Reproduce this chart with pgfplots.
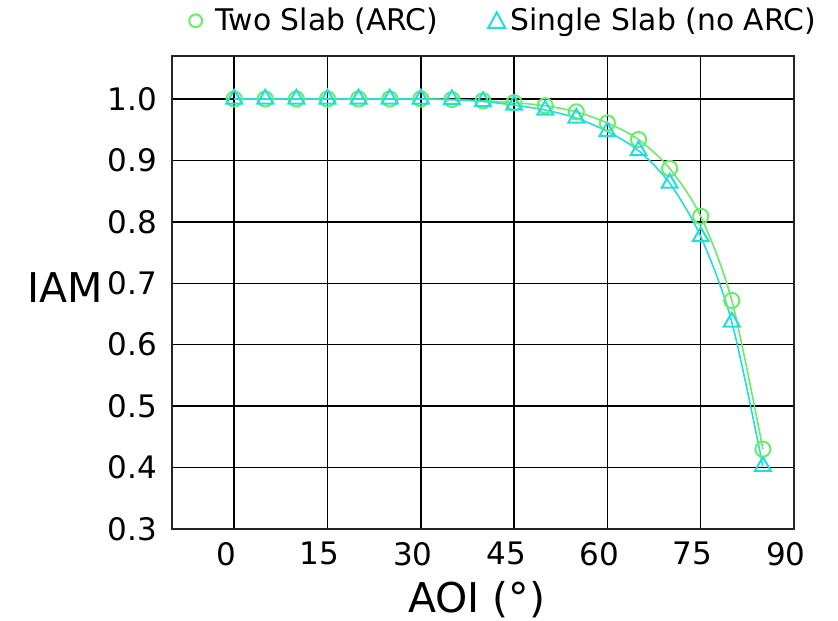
\documentclass[border=0pt]{standalone}
\usepackage{pgfplots}
\pgfplotsset{compat=1.18}
\usepackage{fontspec}
\setmainfont{DejaVu Sans}
\definecolor{cgreen}{RGB}{102,238,102}
\definecolor{ccyan}{RGB}{34,221,221}
\begin{document}
\begin{tikzpicture}
\begin{axis}[
  name=ax,
  scale only axis,
  width=311pt, height=236.5pt,
  xmin=-10, xmax=90, ymin=0.3, ymax=1.07,
  xtick={0,15,30,45,60,75,90},
  ytick={0.3,0.4,0.5,0.6,0.7,0.8,0.9,1.0},
  yticklabels={0.3,0.4,0.5,0.6,0.7,0.8,0.9,1.0},
  grid=major,
  major grid style={black, line width=0.75pt},
  axis line style={black!85, line width=0.9pt},
  major tick length=0pt,
  tick label style={font=\fontsize{15.5}{18}\selectfont},
  /pgf/number format/assume math mode=true,
  xticklabel style={yshift=-3pt, xshift=-4pt},
  yticklabel style={xshift=-4pt},
  xlabel={AOI (°)},
  ylabel={IAM},
  label style={font=\fontsize{20.5}{24}\selectfont},
  xlabel style={at={(axis description cs:0.49,0)}, anchor=north, yshift=-22.5pt},
  ylabel style={rotate=-90, at={(axis description cs:-0.172,0.51)}, anchor=center},
  legend columns=2,
  legend style={draw=none, fill=none, at={(0.5,1)}, anchor=south, xshift=10.5pt, yshift=7pt,
    font=\fontsize{14.9}{17}\selectfont, /tikz/every even column/.append style={column sep=22.5pt}},
  legend cell align=left,
]
\addplot[cgreen, line width=0.8pt, smooth, mark=o, mark size=3.8pt,
  mark options={line width=1pt},
  legend image code/.code={\draw[cgreen, line width=1pt] (0pt,0pt) circle (3.2pt); \path (7.5pt,0pt);}]
coordinates {
(0,1.000) (5,1.000) (10,1.000) (15,1.000) (20,1.000) (25,1.000) (30,1.000) (35,0.999)
(40,0.997) (45,0.994) (50,0.989) (55,0.979) (60,0.961) (65,0.934) (70,0.887)
(75,0.809) (80,0.672) (85,0.430)
};
\addlegendentry{Two Slab (ARC)}
\addplot[ccyan, line width=0.8pt, smooth, mark=triangle, mark size=4.6pt,
  mark options={line width=1pt},
  legend image code/.code={\draw[ccyan, line width=1pt] (-4.2pt,-3.5pt) -- (4.2pt,-3.5pt) -- (0pt,4.2pt) -- cycle; \path (4.5pt,0pt);}]
coordinates {
(0,1.000) (5,1.000) (10,1.000) (15,1.000) (20,1.000) (25,1.000) (30,1.000) (35,0.999)
(40,0.996) (45,0.990) (50,0.982) (55,0.969) (60,0.947) (65,0.916) (70,0.863)
(75,0.776) (80,0.637) (85,0.402)
};
\addlegendentry{Single Slab (no ARC)}
\end{axis}
\pgfresetboundingbox
\path ([xshift=-86pt,yshift=-46pt]ax.south west) rectangle ([xshift=22pt,yshift=28pt]ax.north east);
\end{tikzpicture}
\end{document}
